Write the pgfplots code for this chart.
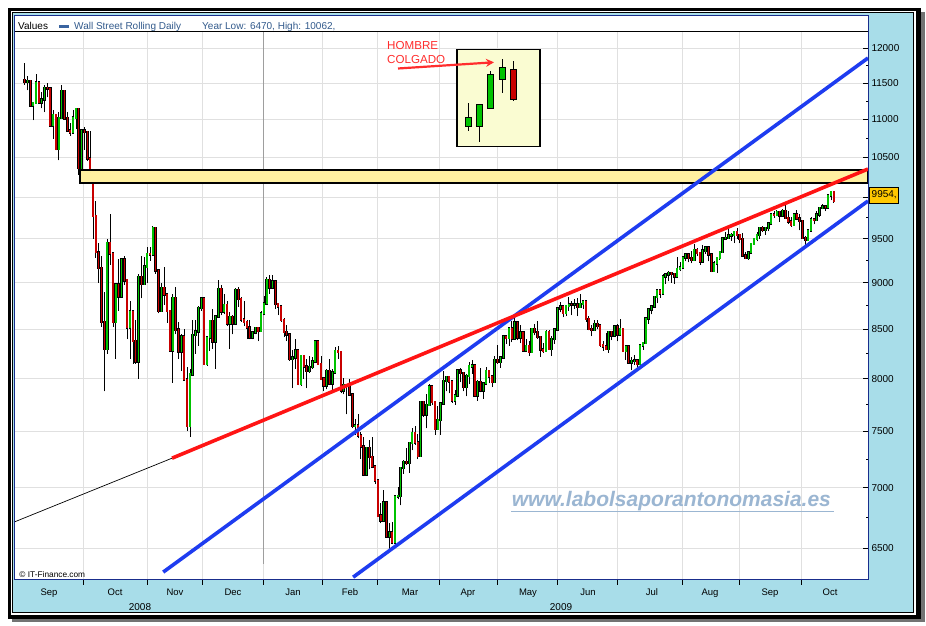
\documentclass[border=0pt]{standalone}
\usepackage{fontspec}
\setmainfont{Liberation Sans}
\usepackage{pgfplots}
\usepackage{pgfplotstable}
\pgfplotsset{compat=1.18}
\usetikzlibrary{arrows.meta}
\definecolor{frameblue}{RGB}{168,221,233}
\definecolor{navy}{RGB}{25,45,140}
\definecolor{cgreen}{RGB}{0,195,0}
\definecolor{cred}{RGB}{200,0,0}
\definecolor{gridc}{RGB}{224,224,224}
\definecolor{bandc}{RGB}{255,240,160}
\definecolor{insetc}{RGB}{250,252,210}
\definecolor{titleblue}{RGB}{50,90,140}
\definecolor{legblue}{RGB}{58,100,160}
\definecolor{wm}{RGB}{155,182,210}
\definecolor{lblue}{RGB}{30,60,240}
\definecolor{lred}{RGB}{255,20,20}
\definecolor{valbox}{RGB}{255,200,0}
\definecolor{annred}{RGB}{255,45,45}

\pgfplotstableread{
i o h l c
0 11543 11790 11480 11517
1 11517 11600 11400 11533
2 11533 11533 11170 11188
3 11188 11240 10990 11221
4 11221 11630 11221 11511
5 11511 11530 11220 11231
6 11231 11380 11150 11269
7 11269 11470 11100 11434
8 11434 11500 11300 11422
9 11422 11422 10900 10918
10 10918 11130 10740 11059
11 11059 11059 10590 10610
12 10610 11100 10460 11020
13 11020 11480 11020 11388
14 11388 11390 11000 11016
15 11016 11100 10840 10854
16 10854 10950 10780 10825
17 10825 11130 10820 11022
18 11022 11150 10870 11143
19 11143 11143 10280 10365
20 10365 10870 10365 10851
21 10851 10900 10600 10831
22 10831 10840 10450 10482
23 10482 10850 10300 10325
24 10200 10330 9500 9770
25 9770 9950 9280 9350
26 9340 9450 9000 9165
27 9165 9300 8530 8578
28 8578 8900 7880 8300
29 8300 9500 8250 9450
30 9450 9790 9200 9330
31 9330 9350 8530 8577
32 8577 9000 8200 8980
33 8980 9270 8700 8850
34 8850 9270 8850 9265
35 9265 9300 8980 9030
36 9030 9040 8400 8520
37 8520 8800 8200 8690
38 8690 8690 8150 8380
39 8380 8600 8150 8175
40 8175 9100 8000 9065
41 9065 9300 8830 8990
42 8990 9290 8990 9180
43 9180 9400 9000 9325
44 9325 9410 9250 9319
45 9319 9654 9319 9625
46 9625 9625 9100 9139
47 9139 9140 8670 8695
48 8695 9000 8695 8943
49 8943 9180 8760 8870
50 8870 8870 8570 8694
51 8694 8700 8270 8283
52 8283 8880 7965 8835
53 8835 8950 8450 8497
54 8497 8580 8200 8273
55 8273 8450 8080 8425
56 8425 8500 7990 7997
57 7997 8120 7510 7552
58 7552 8100 7449 8046
59 8046 8600 8046 8443
60 8443 8600 8250 8479
61 8479 8750 8330 8727
62 8727 8840 8700 8829
63 8829 8829 8140 8149
64 8149 8420 8130 8419
65 8419 8600 8280 8591
66 8591 8720 8300 8376
67 8376 8650 8100 8635
68 8635 9030 8635 8934
69 8934 8980 8650 8691
70 8691 8880 8660 8761
71 8761 8800 8540 8565
72 8565 8680 8300 8629
73 8629 8650 8450 8564
74 8564 8940 8560 8924
75 8924 8960 8740 8824
76 8824 8850 8580 8604
77 8604 8800 8540 8579
78 8579 8600 8400 8519
79 8519 8600 8400 8419
80 8419 8470 8400 8468
81 8468 8530 8450 8515
82 8515 8530 8380 8483
83 8483 8690 8480 8668
84 8668 8860 8650 8776
85 8776 9065 8760 9034
86 9034 9090 8880 8952
87 8952 9090 8940 9015
88 9015 9015 8720 8769
89 8769 8780 8650 8742
90 8742 8760 8580 8599
91 8599 8620 8420 8474
92 8474 8550 8380 8448
93 8448 8450 8180 8200
94 8200 8290 7910 8212
95 8212 8400 8100 8281
96 8281 8290 7940 7949
97 7949 8240 7930 8229
98 8229 8230 8000 8123
99 8123 8200 7910 8077
100 8077 8230 8060 8116
101 8116 8220 8100 8175
102 8175 8390 8175 8375
103 8375 8380 8140 8149
104 8149 8230 7990 8001
105 8001 8010 7880 7936
106 7936 8100 7900 8078
107 8078 8200 7950 7957
108 7957 8100 7860 8063
109 8063 8320 8050 8280
110 8280 8330 8200 8270
111 8270 8280 7860 7888
112 7888 8010 7850 7939
113 7939 7940 7660 7932
114 7932 8000 7840 7850
115 7850 7850 7530 7553
116 7553 7620 7470 7555
117 7555 7660 7440 7466
118 7466 7500 7250 7365
119 7365 7450 7100 7115
120 7115 7360 7110 7351
121 7351 7420 7160 7270
122 7270 7450 7170 7183
123 7183 7190 7030 7063
124 7063 7063 6760 6763
125 6763 6870 6700 6726
126 6726 6980 6726 6876
127 6876 6876 6590 6594
128 6594 6700 6470 6627
129 6627 6710 6530 6547
130 6547 6930 6547 6926
131 6926 7010 6900 6930
132 6930 7180 6850 7170
133 7170 7240 7120 7224
134 7224 7350 7200 7216
135 7216 7400 7130 7395
136 7395 7530 7330 7486
137 7486 7550 7380 7400
138 7400 7480 7250 7278
139 7278 7780 7278 7776
140 7776 7790 7640 7660
141 7660 7850 7530 7749
142 7749 7950 7740 7924
143 7924 7930 7750 7776
144 7776 7780 7470 7522
145 7522 7740 7520 7609
146 7609 7770 7470 7761
147 7761 8075 7761 7979
148 7979 8030 7880 8018
149 8018 8018 7860 7975
150 7975 7975 7770 7789
151 7789 7890 7750 7837
152 7837 8090 7837 8083
153 8083 8110 7970 8058
154 8058 8060 7880 7920
155 7920 8050 7830 8029
156 8029 8170 7950 8125
157 8125 8190 8050 8131
158 8131 8131 7840 7842
159 7842 7990 7790 7970
160 7970 8110 7870 7886
161 7886 7970 7810 7957
162 7957 8120 7950 8076
163 8076 8080 7960 8025
164 8025 8040 7920 7969
165 7969 8230 7969 8185
166 8185 8340 8150 8168
167 8168 8230 8110 8212
168 8212 8430 8212 8426
169 8426 8440 8350 8410
170 8410 8530 8330 8512
171 8512 8590 8370 8409
172 8409 8650 8409 8575
173 8575 8575 8390 8418
174 8418 8550 8360 8469
175 8469 8470 8270 8284
176 8284 8400 8280 8331
177 8331 8380 8230 8268
178 8268 8510 8268 8504
179 8504 8560 8440 8474
180 8474 8590 8400 8422
181 8422 8422 8220 8292
182 8292 8360 8260 8277
183 8277 8490 8270 8473
184 8473 8490 8290 8300
185 8300 8430 8230 8403
186 8403 8510 8350 8500
187 8500 8740 8500 8721
188 8721 8790 8680 8740
189 8740 8740 8630 8675
190 8675 8760 8640 8750
191 8750 8850 8700 8764
192 8764 8800 8650 8762
193 8762 8820 8720 8763
194 8763 8830 8640 8739
195 8739 8880 8730 8770
196 8770 8800 8720 8799
197 8799 8799 8580 8612
198 8612 8640 8490 8504
199 8504 8550 8430 8497
200 8497 8600 8490 8555
201 8555 8600 8500 8539
202 8539 8539 8320 8339
203 8339 8380 8280 8322
204 8322 8460 8290 8299
205 8299 8480 8260 8472
206 8472 8480 8390 8438
207 8438 8550 8430 8529
208 8529 8560 8380 8447
209 8447 8610 8447 8504
210 8504 8504 8270 8280
211 8280 8330 8190 8324
212 8324 8330 8150 8163
213 8163 8220 8087 8179
214 8179 8240 8140 8183
215 8183 8200 8100 8146
216 8146 8332 8120 8332
217 8332 8370 8290 8359
218 8359 8620 8359 8616
219 8616 8730 8560 8711
220 8711 8760 8660 8743
221 8743 8860 8743 8848
222 8848 8930 8780 8916
223 8916 8930 8840 8882
224 8882 9100 8880 9069
225 9069 9100 8990 9093
226 9093 9130 9020 9108
227 9108 9110 9000 9097
228 9097 9100 8990 9070
229 9070 9290 9070 9154
230 9154 9230 9130 9172
231 9172 9290 9172 9286
232 9286 9320 9240 9320
233 9320 9330 9230 9280
234 9280 9360 9220 9256
235 9256 9440 9256 9370
236 9370 9390 9300 9337
237 9337 9340 9200 9241
238 9241 9430 9240 9362
239 9362 9420 9330 9398
240 9398 9400 9240 9321
241 9321 9321 9120 9135
242 9135 9240 9130 9218
243 9218 9290 9110 9279
244 9279 9360 9260 9350
245 9350 9520 9350 9505
246 9505 9580 9500 9509
247 9509 9630 9509 9540
248 9540 9570 9480 9543
249 9543 9590 9450 9581
250 9581 9630 9500 9544
251 9544 9544 9450 9496
252 9496 9570 9300 9310
253 9310 9350 9270 9280
254 9280 9350 9260 9344
255 9344 9450 9340 9441
256 9441 9500 9440 9497
257 9497 9580 9470 9547
258 9547 9630 9500 9627
259 9627 9650 9580 9605
260 9605 9630 9550 9626
261 9626 9690 9590 9683
262 9683 9800 9680 9791
263 9791 9830 9750 9783
264 9783 9840 9770 9820
265 9820 9820 9700 9778
266 9778 9850 9770 9829
267 9829 9920 9740 9748
268 9748 9830 9680 9707
269 9707 9760 9640 9665
270 9665 9800 9660 9789
271 9789 9840 9720 9742
272 9742 9800 9600 9712
273 9712 9712 9500 9509
274 9509 9530 9430 9487
275 9487 9620 9480 9599
276 9599 9760 9599 9731
277 9731 9740 9670 9725
278 9725 9830 9725 9786
279 9786 9870 9760 9865
280 9865 9920 9850 9885
281 9885 9890 9830 9871
282 9871 10020 9871 10016
283 10016 10062 9960 10062
284 10062 10062 9930 9954
}\dj

\pgfplotstableread{
i o h l c
155.7 10951 11228 10848 10982
159.6 10947 11169 10703 11164
163.5 11192 11673 11164 11583
167.8 11598 11842 11366 11683
171.5 11655 11817 11255 11316
}\inset

% trend lines (price values at their two ends)
\pgfplotstableread{
x p
-3.72 6711
51.74 7259
}\lineblack
\pgfplotstableread{
x p
51.74 7259
296 10350
}\linered
\pgfplotstableread{
x p
48.65 6311
296 11861
}\lineblueA
\pgfplotstableread{
x p
115.3 6272
296 9952
}\lineblueB

\pgfplotsset{
  nomark/.style={only marks, mark=*, mark size=0pt, mark options={draw=none, fill=none}, forget plot},
  wick/.style={nomark,
    error bars/y dir=plus, error bars/y explicit, error bars/error mark=none,
    error bars/error bar style={black, line width=#1}},
  body/.style 2 args={nomark,
    error bars/y dir=plus, error bars/y explicit, error bars/error mark=none,
    error bars/error bar style={#1, line width=#2, line cap=rect}},
}

\begin{document}
\begin{tikzpicture}[x=1pt,y=1pt]
\fill[white] (0,0) rectangle (926,626);
% frame with shadow
\fill[black!55] (12,4) rectangle (925,614);
\fill[black] (7.5,7) rectangle (920.7,617.7);
\fill[white] (10.7,11) rectangle (916,615.3);
\fill[black] (12,12.7) rectangle (913.7,614);
\fill[frameblue] (13.3,13.7) rectangle (912.7,612.7);
% panel
\fill[white] (14,46) rectangle (868,610.3);

% header
\node[anchor=base west, inner sep=0pt, font=\fontsize{10}{12}\selectfont] at (18,596.7) {Values};
\fill[legblue] (59,597.7) rectangle (69,601);
\node[anchor=base west, inner sep=0pt, text=titleblue, font=\fontsize{10}{12}\selectfont] at (74,596.7) {Wall Street Rolling Daily};
\node[anchor=base west, inner sep=0pt, text=titleblue, font=\fontsize{10}{12}\selectfont] at (202,596.7) {Year Low: 6470, High: 10062,};

% price axis drawn on a logarithmic scale: y = ln(price)
\begin{axis}[
  at={(14pt,46pt)}, anchor=south west,
  scale only axis, width=854pt, height=548pt,
  xmin=-3.72, xmax=296, ymin=8.740336, ymax=9.412873,
  axis line style={draw=none},
  ytick={8.779557,8.853665,8.922658,8.987197,9.047821,9.104980,9.159047,9.210340,9.259130,9.305651,9.350102,9.392662},
  yticklabels={6500,7000,7500,8000,8500,9000,9500,,10500,11000,11500,12000},
  minor ytick={8.817298,8.888756,8.955448,9.017968,9.076809,9.132379,9.185022,9.235033,9.282661,9.328123,9.371608},
  ytick pos=right, yticklabel pos=right, ytick align=inside,
  xtick={20.5,42.97,62.27,83.68,104.39,123.7,145.45,165.8,186.9,207.9,230.7,250.8,272.5},
  xticklabels={},
  xtick pos=left, xtick align=outside,
  major tick length=5pt, minor tick length=2.5pt,
  tick style={black, line width=0.8pt},
  xmajorgrids, ymajorgrids,
  grid style={gridc, line width=0.8pt},
  yticklabel style={font=\fontsize{10}{12}\selectfont},
]
% year separator
\draw[black!38, line width=0.9pt] (axis cs:83.68,8.76) -- (axis cs:83.68,9.412873);
% candles: wicks
\addplot[wick=0.7pt] table[x=i, y expr=ln(\thisrow{l}), y error expr=ln(\thisrow{h})-ln(\thisrow{l})] {\dj};
% bullish bodies
\addplot[body={black}{2.6pt}, restrict expr to domain={\thisrow{c}-\thisrow{o}}{0:100000}]
  table[x=i, y expr=ln(\thisrow{o}), y error expr=ln(\thisrow{c})-ln(\thisrow{o})] {\dj};
\addplot[body={cgreen}{1.5pt}, restrict expr to domain={\thisrow{c}-\thisrow{o}}{0:100000}]
  table[x=i, y expr=ln(\thisrow{o}), y error expr=ln(\thisrow{c})-ln(\thisrow{o})] {\dj};
% bearish bodies
\addplot[body={black}{2.6pt}, restrict expr to domain={\thisrow{c}-\thisrow{o}}{-100000:-0.5}]
  table[x=i, y expr=ln(\thisrow{c}), y error expr=ln(\thisrow{o})-ln(\thisrow{c})] {\dj};
\addplot[body={cred}{1.5pt}, restrict expr to domain={\thisrow{c}-\thisrow{o}}{-100000:-0.5}]
  table[x=i, y expr=ln(\thisrow{c}), y error expr=ln(\thisrow{o})-ln(\thisrow{c})] {\dj};
% resistance band (10174 to 10338)
\draw[fill=bandc, line width=1.5pt] (axis cs:19.45,9.243527) rectangle (axis cs:296,9.227570);
% inset (10638 to 11988)
\draw[fill=insetc, line width=1.5pt] (axis cs:151.7,9.391680) rectangle (axis cs:180.9,9.272127);
\addplot[wick=0.8pt] table[x=i, y expr=ln(\thisrow{l}), y error expr=ln(\thisrow{h})-ln(\thisrow{l})] {\inset};
\addplot[body={black}{7pt}, restrict expr to domain={\thisrow{c}-\thisrow{o}}{0:100000}]
  table[x=i, y expr=ln(\thisrow{o}), y error expr=ln(\thisrow{c})-ln(\thisrow{o})] {\inset};
\addplot[body={cgreen}{5pt}, restrict expr to domain={\thisrow{c}-\thisrow{o}}{0:100000}]
  table[x=i, y expr=ln(\thisrow{o}), y error expr=ln(\thisrow{c})-ln(\thisrow{o})] {\inset};
\addplot[body={black}{7pt}, restrict expr to domain={\thisrow{c}-\thisrow{o}}{-100000:-0.5}]
  table[x=i, y expr=ln(\thisrow{c}), y error expr=ln(\thisrow{o})-ln(\thisrow{c})] {\inset};
\addplot[body={cred}{5pt}, restrict expr to domain={\thisrow{c}-\thisrow{o}}{-100000:-0.5}]
  table[x=i, y expr=ln(\thisrow{c}), y error expr=ln(\thisrow{o})-ln(\thisrow{c})] {\inset};
% trend lines
\addplot[black, line width=0.7pt, forget plot] table[x=x, y expr=ln(\thisrow{p})] {\lineblack};
\addplot[lblue, line width=3.6pt, forget plot] table[x=x, y expr=ln(\thisrow{p})] {\lineblueA};
\addplot[lblue, line width=3.6pt, forget plot] table[x=x, y expr=ln(\thisrow{p})] {\lineblueB};
\addplot[lred, line width=3.6pt, forget plot] table[x=x, y expr=ln(\thisrow{p})] {\linered};
\end{axis}

% panel borders
\draw[navy, line width=1pt] (14.5,610.3) -- (14.5,46) -- (868,46) -- (868,610.3) -- cycle;
\draw[black, line width=1pt] (14.5,594) -- (868,594);

% month labels
\foreach \m/\px in {Sep/49,Oct/115,Nov/175,Dec/233,Jan/293,Feb/350,Mar/410,Apr/468,May/528,Jun/588,Jul/652,Aug/710,Sep/770,Oct/830}
  \node[anchor=base, inner sep=0pt, font=\fontsize{9.5}{12}\selectfont] at (\px,30) {\m};

% annotation
\node[anchor=base west, inner sep=0pt, text=annred, font=\fontsize{11.6}{13}\selectfont] at (387,576) {HOMBRE};
\node[anchor=base west, inner sep=0pt, text=annred, font=\fontsize{11.6}{13}\selectfont] at (387,562.7) {COLGADO};
\draw[annred, line width=2.2pt, -{Stealth[length=8pt,width=8pt]}] (398,557.5) -- (494,563.7);

% watermark
\node[anchor=base west, inner sep=0pt, text=wm, font=\bfseries\itshape\fontsize{21}{24}\selectfont] at (511.7,119.3) {www.labolsaporantonomasia.es};
\draw[wm, line width=1.6pt] (511,114.5) -- (834,114.5);

\node[anchor=base west, inner sep=0pt, font=\fontsize{8.3}{10}\selectfont] at (19.3,48.7) {\textcopyright\ IT-Finance.com};

% last value box
\node[draw=black, fill=valbox, line width=0.8pt, anchor=west, inner xsep=2pt, minimum height=16pt, font=\fontsize{10}{12}\selectfont] at (869.3,431) {9954,};

% years
\node[font=\fontsize{10}{12}\selectfont] at (140,19) {2008};
\node[font=\fontsize{10}{12}\selectfont] at (561,19) {2009};

\pgfresetboundingbox
\useasboundingbox (0,0) rectangle (926,626);
\end{tikzpicture}
\end{document}
